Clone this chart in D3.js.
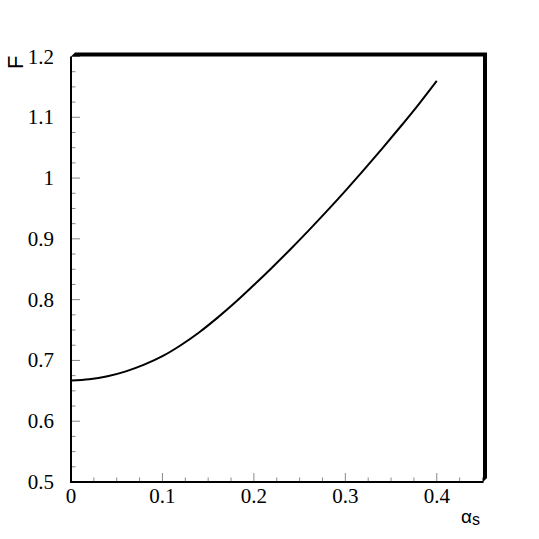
<!DOCTYPE html>
<html lang="en">
<head>
<meta charset="UTF-8">
<script src="https://d3js.org/d3.v7.min.js"></script>
<title>F vs alpha_s</title>
<style>
  body { margin: 0; background: #fff; }
</style>
</head>
<body>
<script>
// curve
var alphaS = [0, 0.02, 0.04, 0.06, 0.08, 0.10, 0.12, 0.14, 0.16, 0.18, 0.20,
              0.22, 0.24, 0.26, 0.28, 0.30, 0.32, 0.34, 0.36, 0.38, 0.40];
var fVals  = [0.667, 0.669, 0.674, 0.682, 0.693, 0.707, 0.725, 0.746, 0.770, 0.796, 0.824,
              0.853, 0.883, 0.914, 0.946, 0.979, 1.013, 1.048, 1.084, 1.121, 1.160];
var xTicks = [0, 0.1, 0.2, 0.3, 0.4];
var yTicks = [0.5, 0.6, 0.7, 0.8, 0.9, 1, 1.1, 1.2];

var width = 539, height = 539;
var svg = d3.select("body").append("svg").attr("width", width).attr("height", height);

// plot box ("top" is taken by window.top, so other names)
var pLeft = 71, pRight = 482.5, pTop = 56.5, pBottom = 482;
var x = d3.scaleLinear().domain([0, 0.45]).range([pLeft, pRight]);
var y = d3.scaleLinear().domain([0.5, 1.2]).range([pBottom, pTop]);

// minor ticks every 0.025
var xMinor = d3.range(0, 0.45 + 1e-9, 0.025);
var yMinor = d3.range(0.5, 1.2 + 1e-9, 0.025);
function isMajor(list, d) { return list.some(t => Math.abs(t - d) < 1e-6); }

var g = svg.append("g");

g.selectAll(".xminor").data(xMinor).enter().append("line")
  .attr("x1", d => x(d)).attr("x2", d => x(d))
  .attr("y1", pBottom).attr("y2", d => pBottom - (isMajor(xTicks, d) ? 9 : 4.5))
  .attr("stroke", "#888").attr("stroke-width", 1);

g.selectAll(".yminor").data(yMinor).enter().append("line")
  .attr("y1", d => y(d)).attr("y2", d => y(d))
  .attr("x1", pLeft).attr("x2", d => pLeft + (isMajor(yTicks, d) ? 9 : 4.5))
  .attr("stroke", "#888").attr("stroke-width", 1);

// axis lines
g.append("line").attr("x1", pLeft).attr("x2", pLeft).attr("y1", pTop).attr("y2", pBottom)
  .attr("stroke", "#000").attr("stroke-width", 2);
g.append("line").attr("x1", pLeft - 1).attr("x2", pRight + 1).attr("y1", pBottom).attr("y2", pBottom)
  .attr("stroke", "#000").attr("stroke-width", 2);

// thick frame on top and right
var fp = [[pLeft, pTop], [pLeft + 4, pTop - 4], [pRight + 4.5, pTop - 4], [pRight + 4.5, pBottom - 4],
          [pRight + 0.5, pBottom], [pRight + 0.5, pTop]];
g.append("polygon").attr("points", fp.map(p => p.join(",")).join(" ")).attr("fill", "#000");

// tick labels
g.selectAll(".xlab").data(xTicks).enter().append("text")
  .attr("x", d => x(d)).attr("y", 503)
  .attr("text-anchor", "middle")
  .style("font-family", "Liberation Serif, Times New Roman, serif")
  .style("font-size", "21px")
  .text(d => d);

g.selectAll(".ylab").data(yTicks).enter().append("text")
  .attr("x", 54).attr("y", d => y(d) + 7)
  .attr("text-anchor", "end")
  .style("font-family", "Liberation Serif, Times New Roman, serif")
  .style("font-size", "21px")
  .text(d => d);

// curve
var line = d3.line()
  .x(function(d, i) { return x(alphaS[i]); })
  .y(function(d) { return y(d); })
  .curve(d3.curveMonotoneX);
g.append("path").datum(fVals).attr("d", line)
  .attr("fill", "none").attr("stroke", "#000").attr("stroke-width", 2);

// axis titles
svg.append("text")
  .attr("transform", "translate(22.5,69) rotate(-90)")
  .style("font-family", "Liberation Sans, Arial, sans-serif")
  .style("font-size", "22px")
  .text("F");

var xt = svg.append("text")
  .attr("x", 461).attr("y", 523)
  .style("font-family", "Liberation Sans, Arial, sans-serif")
  .style("font-size", "19px");
xt.append("tspan").text("α");
xt.append("tspan").attr("dy", 2).style("font-size", "16px").text("s");
</script>
</body>
</html>
